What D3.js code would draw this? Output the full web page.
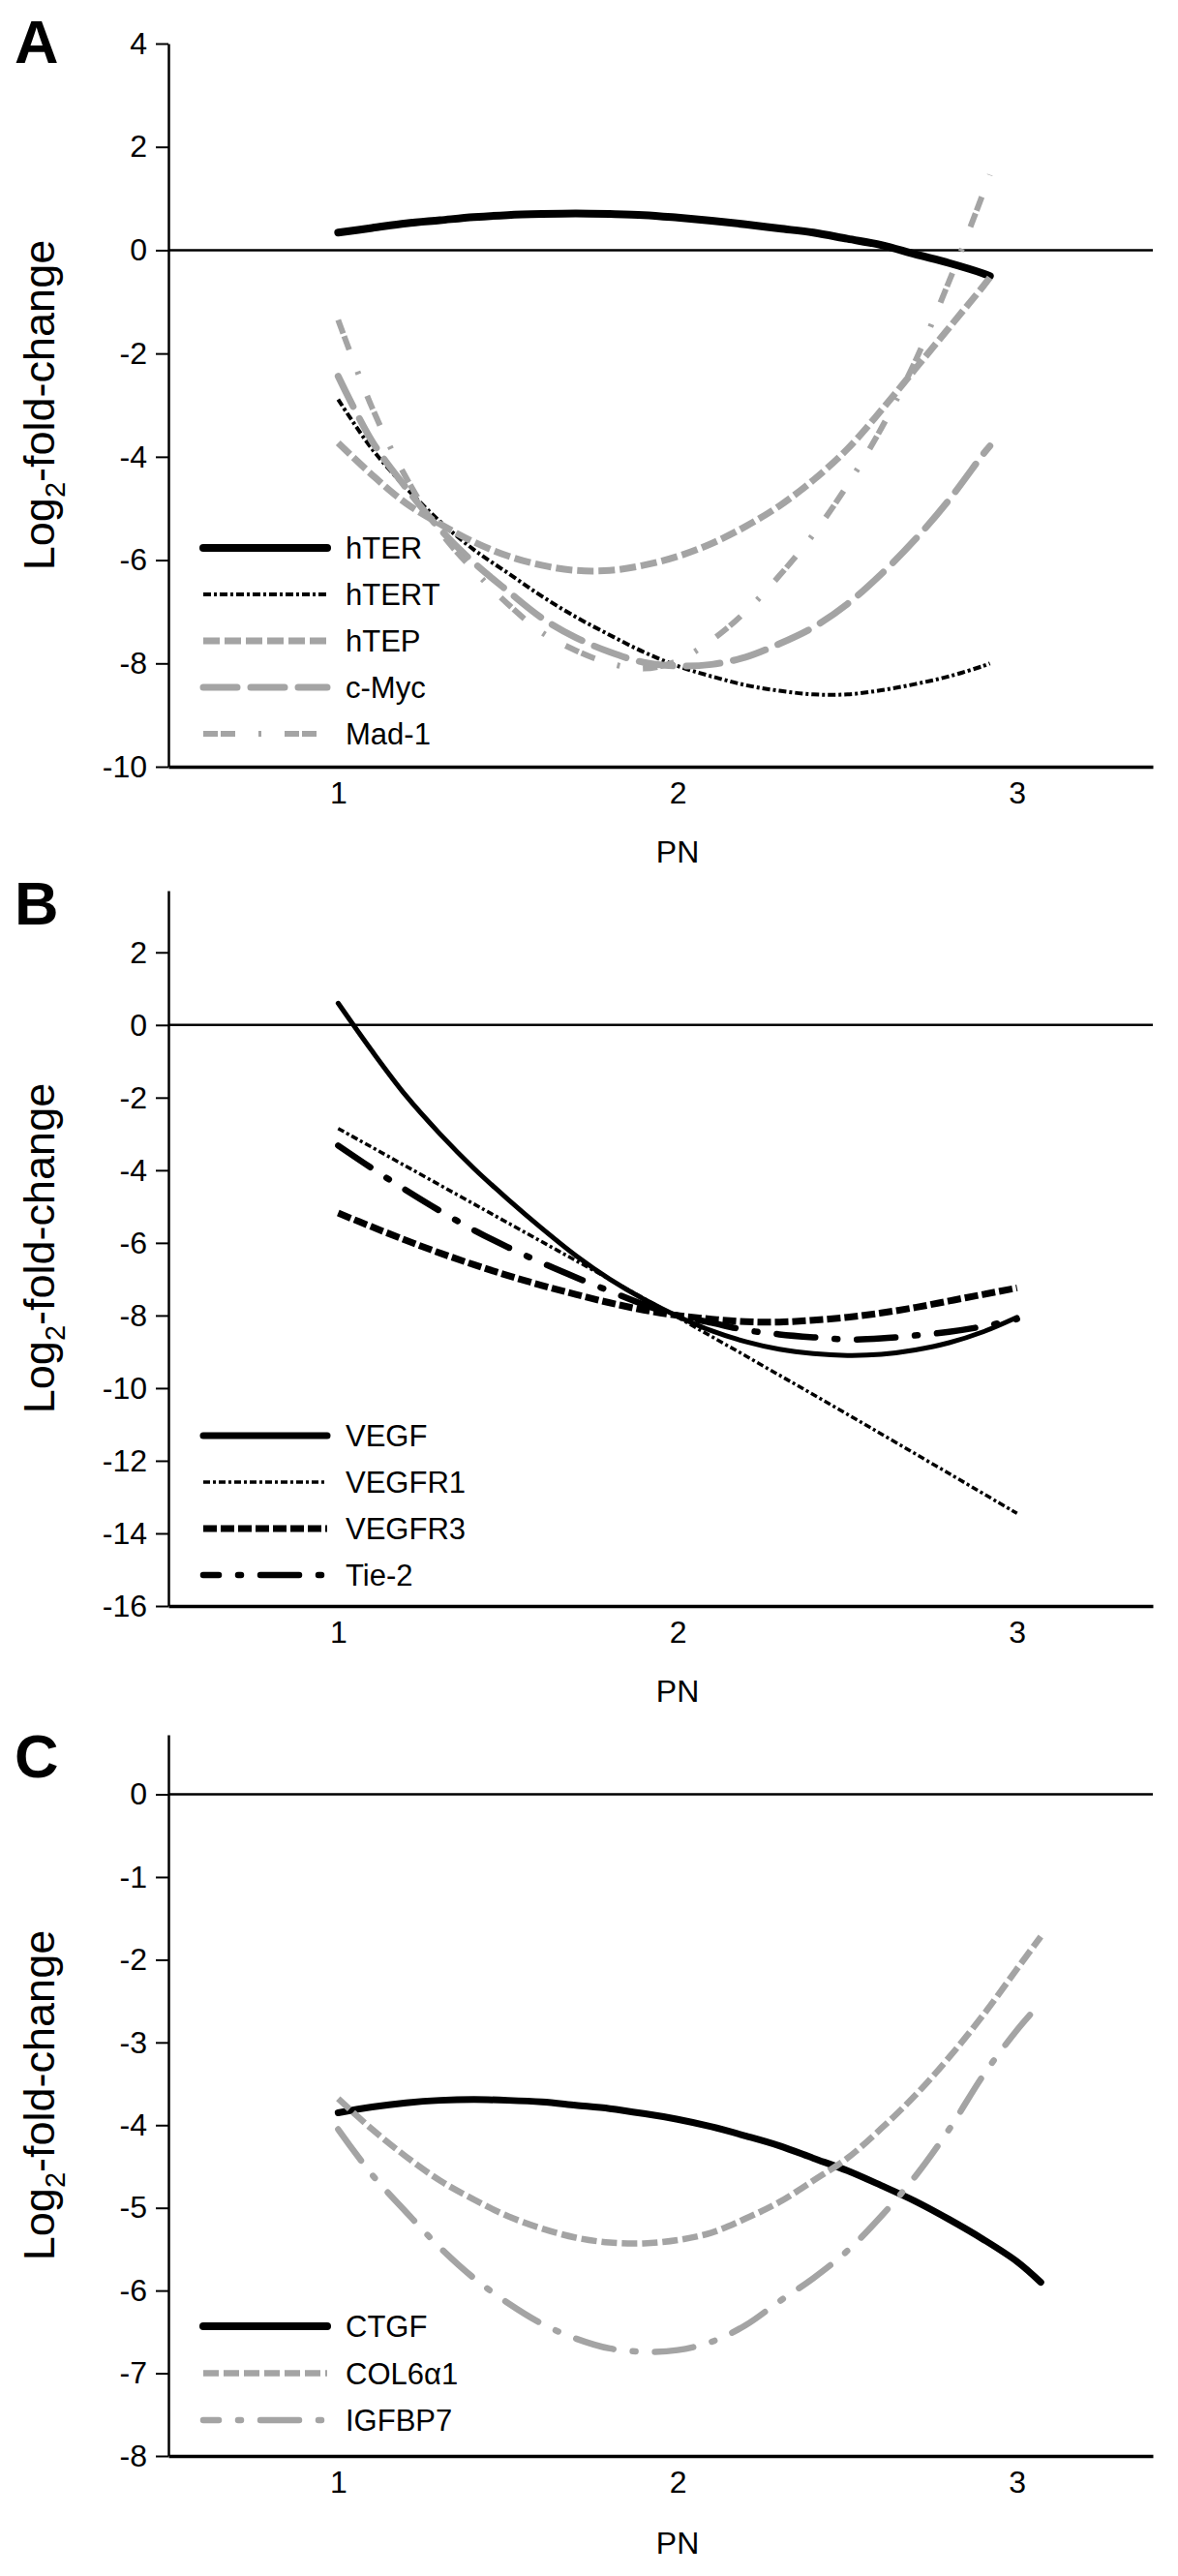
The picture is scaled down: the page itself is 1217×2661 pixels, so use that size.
<!DOCTYPE html>
<html>
<head>
<meta charset="utf-8">
<script src="https://cdn.jsdelivr.net/npm/d3@7"></script>
<style>
body { margin: 0; background: #fff; }
</style>
</head>
<body>
<svg id="fig" width="1217" height="2661"></svg>
<script>
// ---- data ----
var xTicks = [1, 2, 3];

// A: telomerase genes
var pnA = [1.0, 1.1, 1.2, 1.3, 1.4, 1.5, 1.6, 1.7, 1.8, 1.9, 2.0, 2.1, 2.2, 2.3, 2.4, 2.5, 2.6, 2.7, 2.8, 2.9, 2.92];
var hTER  = [0.34, 0.43, 0.52, 0.58, 0.64, 0.68, 0.70, 0.71, 0.70, 0.68, 0.63, 0.57, 0.50, 0.42, 0.34, 0.22, 0.10, -0.08, -0.25, -0.45, -0.50];
var hTERT = [-2.89, -3.85, -4.60, -5.25, -5.80, -6.25, -6.70, -7.10, -7.45, -7.78, -8.05, -8.25, -8.42, -8.53, -8.60, -8.60, -8.52, -8.40, -8.25, -8.05, -8.00];
var hTEP  = [-3.73, -4.35, -4.90, -5.30, -5.65, -5.92, -6.10, -6.20, -6.20, -6.10, -5.93, -5.68, -5.35, -4.95, -4.45, -3.85, -3.10, -2.30, -1.50, -0.70, -0.53];
var cMyc  = [-2.44, -3.70, -4.60, -5.40, -6.05, -6.60, -7.12, -7.50, -7.78, -7.98, -8.05, -8.02, -7.88, -7.62, -7.30, -6.85, -6.27, -5.60, -4.83, -3.95, -3.79];
var mad1  = [-1.35, -3.05, -4.40, -5.45, -6.20, -6.85, -7.40, -7.75, -8.00, -8.10, -7.95, -7.55, -7.00, -6.30, -5.50, -4.55, -3.45, -2.15, -0.60, 1.10, 1.46];
var yTicksA = [4, 2, 0, -2, -4, -6, -8, -10];

// B: angiogenesis genes
var pnB = [1.0, 1.1, 1.2, 1.3, 1.4, 1.5, 1.6, 1.7, 1.8, 1.9, 2.0, 2.1, 2.2, 2.3, 2.4, 2.5, 2.6, 2.7, 2.8, 2.9, 3.0];
var vegf   = [0.60, -0.72, -1.95, -3.00, -3.95, -4.80, -5.60, -6.35, -7.00, -7.55, -8.02, -8.42, -8.72, -8.93, -9.05, -9.10, -9.07, -8.95, -8.75, -8.45, -8.05];
var pnR1 = [1.0, 1.5, 2.0, 2.5, 3.0];
var vegfr1 = [-2.85, -5.45, -8.05, -10.72, -13.45];
var vegfr3 = [-5.18, -5.56, -5.93, -6.28, -6.60, -6.90, -7.17, -7.42, -7.65, -7.85, -8.00, -8.10, -8.17, -8.18, -8.13, -8.05, -7.93, -7.78, -7.60, -7.42, -7.24];
var tie2   = [-3.32, -3.95, -4.55, -5.12, -5.65, -6.12, -6.55, -6.95, -7.33, -7.70, -8.00, -8.20, -8.40, -8.52, -8.60, -8.66, -8.63, -8.55, -8.45, -8.30, -8.10];
var yTicksB = [2, 0, -2, -4, -6, -8, -10, -12, -14, -16];

// C: matrix genes
var pnC = [1.0, 1.1, 1.2, 1.3, 1.4, 1.5, 1.6, 1.7, 1.8, 1.9, 2.0, 2.1, 2.2, 2.3, 2.4, 2.5, 2.6, 2.7, 2.8, 2.9, 3.0, 3.07];
var ctgf   = [-3.85, -3.78, -3.73, -3.70, -3.69, -3.70, -3.72, -3.76, -3.80, -3.86, -3.93, -4.02, -4.13, -4.25, -4.40, -4.55, -4.73, -4.92, -5.14, -5.38, -5.65, -5.90];
var col6a1 = [-3.68, -4.05, -4.38, -4.67, -4.90, -5.10, -5.25, -5.36, -5.42, -5.43, -5.39, -5.30, -5.13, -4.93, -4.67, -4.40, -4.04, -3.64, -3.18, -2.67, -2.11, -1.72];
var igfbp7 = [-4.05, -4.60, -5.05, -5.48, -5.85, -6.15, -6.40, -6.58, -6.70, -6.74, -6.72, -6.62, -6.42, -6.13, -5.85, -5.52, -5.10, -4.62, -4.05, -3.40, -2.85, -2.52];
var yTicksC = [0, -1, -2, -3, -4, -5, -6, -7, -8];

// ---- styles ----
var gray = "#a4a4a4";
var styles = {
  "hTER":   {color: "#000", width: 8, dash: null, cap: "round"},
  "hTERT":  {color: "#000", width: 4, dash: "8,3,3,3"},
  "hTEP":   {color: gray,   width: 7, dash: "17,5"},
  "c-Myc":  {color: gray,   width: 7, dash: "35,14", cap: "round"},
  "Mad-1":  {color: gray,   width: 6, dash: "15,3,15,24,3,24"},
  "VEGF":   {color: "#000", width: 5, dash: null, legendWidth: 7, cap: "round"},
  "VEGFR1": {color: "#000", width: 3.5, dash: "7,3,3,3"},
  "VEGFR3": {color: "#000", width: 7, dash: "14,4"},
  "Tie-2":  {color: "#000", width: 6.5, dash: "40,20,3,20", cap: "round", legendOffset: 24},
  "CTGF":   {color: "#000", width: 7, dash: null, legendWidth: 8, cap: "round"},
  "COL6α1": {color: gray,   width: 6.5, dash: "16,5"},
  "IGFBP7": {color: gray,   width: 6.5, dash: "40,20,3,20", cap: "round", legendOffset: 24}
};

function zip(xs, ys) { return xs.map(function(v, i) { return [v, ys[i]]; }); }

var panels = [
  {letter: "A", yDomain: [-10, 4], yRange: [792, 45], yTicks: yTicksA, letterY: 65, pnY: 891, legendY: 566, legendStep: 48,
   series: [["hTER", pnA, hTER], ["hTERT", pnA, hTERT], ["hTEP", pnA, hTEP], ["c-Myc", pnA, cMyc], ["Mad-1", pnA, mad1]]},
  {letter: "B", yDomain: [-16, 3.7], yRange: [1659, 920], yTicks: yTicksB, letterY: 955, pnY: 1758, legendY: 1483, legendStep: 48,
   series: [["VEGF", pnB, vegf], ["VEGFR1", pnR1, vegfr1], ["VEGFR3", pnB, vegfr3], ["Tie-2", pnB, tie2]]},
  {letter: "C", yDomain: [-8, 0.72], yRange: [2537, 1792], yTicks: yTicksC, letterY: 1836, pnY: 2638, legendY: 2403, legendStep: 48.5,
   series: [["CTGF", pnC, ctgf], ["COL6α1", pnC, col6a1], ["IGFBP7", pnC, igfbp7]]}
];

var font = "'Liberation Sans', Arial, Helvetica, sans-serif";
var svg = d3.select("#fig");
var x = d3.scaleLinear().domain([0.5, 3.4]).range([174, 1191]);

panels.forEach(function(p) {
  var y = d3.scaleLinear().domain(p.yDomain).range(p.yRange);
  var g = svg.append("g");

  // zero reference line
  g.append("line")
    .attr("x1", x.range()[0]).attr("x2", x.range()[1])
    .attr("y1", y(0)).attr("y2", y(0))
    .attr("stroke", "#000").attr("stroke-width", 2.5);

  var yAxis = d3.axisLeft(y).tickValues(p.yTicks).tickSize(13).tickSizeOuter(0).tickPadding(9)
    .tickFormat(function(d) { return String(d); });
  var ya = g.append("g").attr("transform", "translate(" + x.range()[0] + ",0)").call(yAxis);
  ya.select(".domain").attr("stroke-width", 2.5);
  ya.selectAll(".tick line").attr("stroke-width", 2);
  ya.selectAll(".tick text").attr("font-family", font).attr("font-size", 32).attr("fill", "#000");

  var xAxis = d3.axisBottom(x).tickValues(xTicks).tickSize(0).tickSizeOuter(0).tickPadding(15)
    .tickFormat(d3.format("d"));
  var xa = g.append("g").attr("transform", "translate(0," + y.range()[0] + ")").call(xAxis);
  xa.select(".domain").attr("stroke-width", 3.5);
  xa.selectAll(".tick text").attr("font-family", font).attr("font-size", 32).attr("fill", "#000");

  // curves
  var line = d3.line()
    .x(function(d) { return x(d[0]); })
    .y(function(d) { return y(d[1]); })
    .curve(d3.curveCatmullRom.alpha(0.5));

  p.series.forEach(function(s, i) {
    var st = styles[s[0]];
    g.append("path")
      .datum(zip(s[1], s[2]))
      .attr("d", line)
      .attr("fill", "none")
      .attr("stroke", st.color)
      .attr("stroke-width", st.width)
      .attr("stroke-dasharray", st.dash)
      .attr("stroke-linecap", st.cap || "butt");

    // legend row
    var ly = p.legendY + i * p.legendStep;
    g.append("line")
      .attr("x1", 210).attr("x2", 338).attr("y1", ly).attr("y2", ly)
      .attr("stroke", st.color)
      .attr("stroke-width", st.legendWidth || st.width)
      .attr("stroke-dasharray", st.dash)
      .attr("stroke-dashoffset", st.legendOffset || 0)
      .attr("stroke-linecap", st.cap || "butt");
    g.append("text")
      .attr("x", 357).attr("y", ly).attr("dy", "0.36em")
      .attr("font-family", font).attr("font-size", 31)
      .text(s[0]);
  });

  // panel letter
  g.append("text").attr("x", 15).attr("y", p.letterY)
    .attr("font-family", font)
    .attr("font-weight", "bold").attr("font-size", 63).text(p.letter);

  // axis titles
  var yl = g.append("text")
    .attr("transform", "translate(56," + (p.yRange[0] + p.yRange[1]) / 2 + ") rotate(-90)")
    .attr("text-anchor", "middle")
    .attr("font-family", font)
    .attr("font-size", 45);
  yl.append("tspan").text("Log");
  yl.append("tspan").attr("font-size", 29).attr("dy", 11).text("2");
  yl.append("tspan").attr("dy", -11).text("-fold-change");

  g.append("text").attr("x", x(2)).attr("y", p.pnY)
    .attr("text-anchor", "middle")
    .attr("font-family", font).attr("font-size", 32).text("PN");
});
</script>
</body>
</html>
